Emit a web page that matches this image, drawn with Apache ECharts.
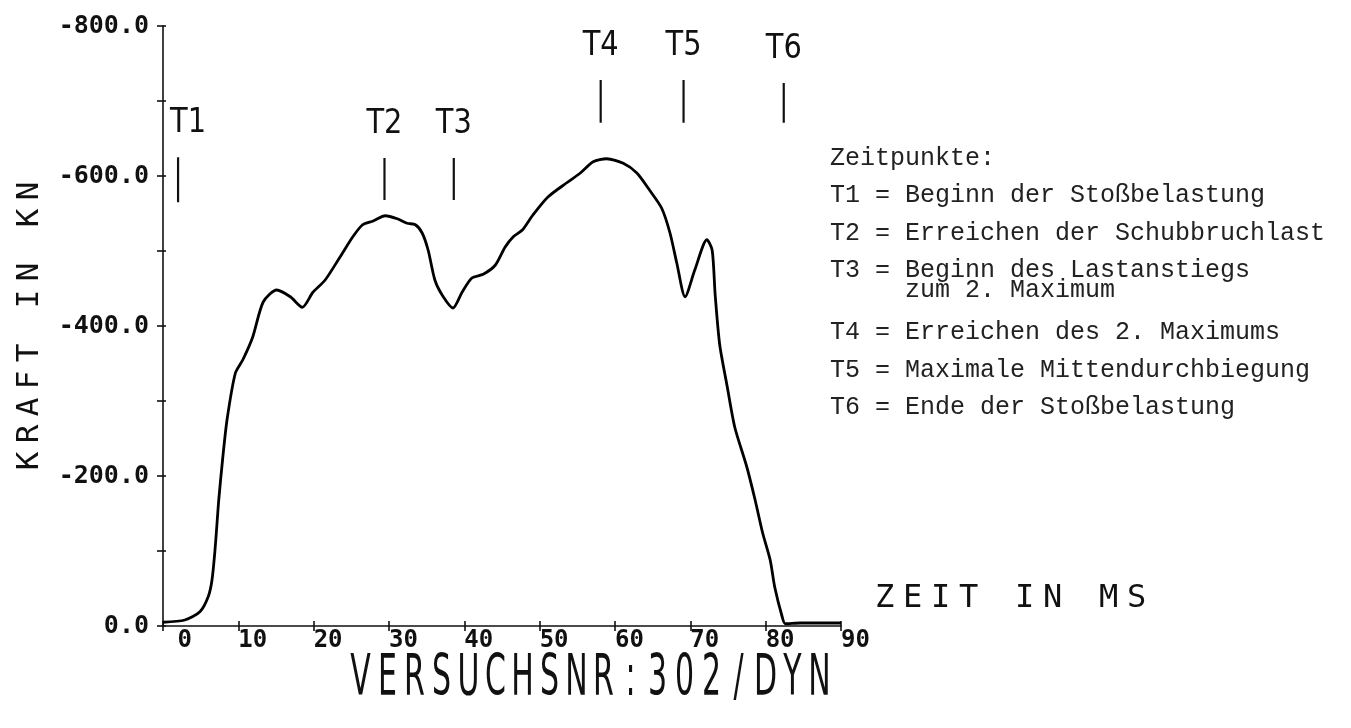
<!DOCTYPE html>
<html>
<head>
<meta charset="utf-8">
<title>VERSUCHSNR:302/DYN</title>
<script src="https://cdn.jsdelivr.net/npm/echarts@6/dist/echarts.min.js"></script>
<style>
html, body { margin: 0; padding: 0; background: #fff; }
#myChart { width: 1351px; height: 728px; }
</style>
</head>
<body>
<div id="myChart"></div>
<script>
// Zeit in ms
var zeit = [0, 2.9, 4.9, 6.0, 6.5, 6.9, 7.2, 7.4, 7.9, 8.5,
  9.6, 10.6, 11.9, 13.3, 15.1, 16.9, 18.5, 19.9, 21.5, 23.5,
  25.2, 26.5, 27.9, 29.5, 31.1, 32.4, 33.5, 34.4, 35.2, 36.1,
  37.2, 38.5, 39.7, 41.0, 42.5, 44.1, 45.4, 46.5, 47.7, 49.1,
  51.1, 53.6, 55.4, 57.1, 58.9, 61.1, 62.9, 64.6, 66.2, 67.3,
  68.2, 69.3, 70.6, 72.2, 72.9, 73.3, 73.9, 74.9, 75.9, 77.5,
  78.6, 79.6, 80.6, 81.2, 82.2, 82.6, 84.6, 90];
// Kraft in kN
var kraft = [-5, -8, -19, -39, -61, -101, -141, -168, -221, -275,
  -337, -355, -385, -432, -448, -439, -425, -445, -461, -492,
  -519, -535, -540, -547, -543, -537, -535, -524, -501, -461,
  -439, -424, -445, -464, -469, -481, -505, -519, -528, -548,
  -572, -591, -604, -619, -623, -617, -604, -581, -557, -524,
  -484, -439, -475, -515, -501, -441, -375, -319, -265, -212,
  -168, -124, -88, -52, -12, -3, -4, -4];

// Zeitpunkte T1..T6 (Markierungsstriche)
var tName = ["T1", "T2", "T3", "T4", "T5", "T6"];
var tZeit = [2.0, 29.4, 38.6, 58.1, 69.1, 82.4];
var tOben = [-625, -624, -624, -728, -728, -724];
var tUnten = [-565, -568, -568, -671, -671, -671];

var legendeZeilen = [
  "Zeitpunkte:",
  "T1 = Beginn der Stoßbelastung",
  "T2 = Erreichen der Schubbruchlast",
  "T3 = Beginn des Lastanstiegs",
  "     zum 2. Maximum",
  "T4 = Erreichen des 2. Maximums",
  "T5 = Maximale Mittendurchbiegung",
  "T6 = Ende der Stoßbelastung"
];
var legendeY = [158, 195, 233, 270, 290, 332, 370, 407];

var yTitel = "KRAFT IN KN";
var xTitel = "ZEIT IN MS";
var titel = "VERSUCHSNR:302/DYN";

// jeder Buchstabe in eine feste Zelle (Plotter-Schrift)
function zellen(s) {
  return s.split("").map(function (ch) { return "{c|" + ch + "}"; }).join("");
}

var kurve = zeit.map(function (t, i) { return [t, kraft[i]]; });
var marken = tZeit.map(function (t, i) { return [t, tOben[i], tUnten[i]]; });

var schwarz = "#111";
var achsLinie = { lineStyle: { color: schwarz, width: 1.6 } };

var myChart = echarts.init(document.getElementById("myChart"));
myChart.setOption({
  animation: false,
  backgroundColor: "#fff",
  grid: { left: 163, right: 510, top: 26, bottom: 102 },
  xAxis: [
    {
      type: "value",
      min: 0,
      max: 90,
      interval: 10,
      axisLine: achsLinie,
      axisTick: { length: 5, lineStyle: { color: schwarz, width: 1.6 } },
      splitLine: { show: false },
      axisLabel: {
        formatter: function (v) { return v === 0 ? " 0" : String(v); },
        align: "left",
        margin: 3,
        color: schwarz,
        fontFamily: "DejaVu Sans Mono",
        fontWeight: "bold",
        fontSize: 24
      }
    },
    {
      type: "value",
      min: 0,
      max: 90,
      interval: 10,
      position: "bottom",
      axisLine: { show: false },
      axisTick: { inside: true, length: 5, lineStyle: { color: schwarz, width: 1.6 } },
      axisLabel: { show: false },
      splitLine: { show: false }
    }
  ],
  yAxis: [
    {
      type: "value",
      min: -800,
      max: 0,
      interval: 100,
      inverse: true,
      axisLine: { show: true, lineStyle: { color: schwarz, width: 1.6 } },
      axisTick: { length: 6, lineStyle: { color: schwarz, width: 1.6 } },
      splitLine: { show: false },
      axisLabel: {
        formatter: function (v) { return v % 200 === 0 ? v.toFixed(1) : ""; },
        margin: 14,
        color: schwarz,
        fontFamily: "DejaVu Sans Mono",
        fontWeight: "bold",
        fontSize: 25
      },
      name: zellen(yTitel),
      nameLocation: "middle",
      nameGap: 118,
      nameTextStyle: {
        rich: {
          c: { width: 27, align: "center", color: schwarz, fontFamily: "DejaVu Sans Mono", fontSize: 31 }
        }
      }
    },
    {
      type: "value",
      min: -800,
      max: 0,
      interval: 100,
      inverse: true,
      position: "left",
      axisLine: { show: false },
      axisTick: { inside: true, length: 3, lineStyle: { color: schwarz, width: 1.6 } },
      axisLabel: { show: false },
      splitLine: { show: false }
    }
  ],
  series: [
    {
      name: "Kraft",
      type: "line",
      data: kurve,
      smooth: 0.25,
      showSymbol: false,
      lineStyle: { color: "#000", width: 2.8 }
    },
    {
      name: "Zeitpunkte",
      type: "custom",
      clip: false,
      data: marken,
      renderItem: function (params, api) {
        var oben = api.coord([api.value(0), api.value(1)]);
        var unten = api.coord([api.value(0), api.value(2)]);
        var dx = params.dataIndex === 0 ? 10 : 0;
        return {
          type: "group",
          children: [
            {
              type: "line",
              shape: { x1: oben[0], y1: oben[1], x2: unten[0], y2: unten[1] },
              style: { stroke: schwarz, lineWidth: 2.2 }
            },
            {
              type: "text",
              x: oben[0] + dx,
              y: oben[1] - 34,
              scaleX: 0.85,
              style: {
                text: tName[params.dataIndex],
                fill: schwarz,
                font: "34px 'DejaVu Sans'",
                textAlign: "center",
                textVerticalAlign: "middle"
              }
            }
          ]
        };
      }
    }
  ],
  graphic: [
    {
      type: "text",
      left: 875,
      top: 583,
      style: {
        text: zellen(xTitel),
        rich: { c: { width: 28, align: "center", fill: schwarz, fontFamily: "DejaVu Sans Mono", fontSize: 32 } }
      }
    },
    {
      type: "text",
      x: 590,
      y: 680,
      scaleY: 1.9,
      style: {
        text: zellen(titel),
        textAlign: "center",
        textVerticalAlign: "middle",
        rich: { c: { width: 27, align: "center", fill: schwarz, fontFamily: "DejaVu Sans", fontSize: 30 } }
      }
    }
  ].concat(legendeZeilen.map(function (zeile, i) {
    return {
      type: "text",
      x: 830,
      y: legendeY[i],
      style: {
        text: zeile,
        fill: "#222",
        font: "25px 'Liberation Mono'",
        textVerticalAlign: "middle"
      }
    };
  }))
});
</script>
</body>
</html>
